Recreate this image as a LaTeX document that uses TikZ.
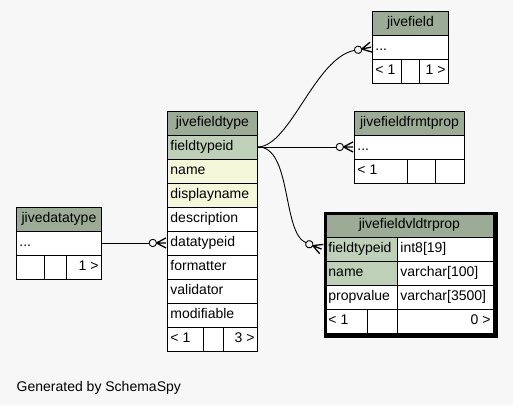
\documentclass[tikz,border=0pt]{standalone}
\usepackage{fontspec}
\setmainfont{Liberation Sans}
\usetikzlibrary{calc}
\definecolor{bg}{HTML}{F7F7F7}
\definecolor{hdrc}{HTML}{9BAB96}
\definecolor{pkc}{HTML}{BED1B8}
\definecolor{idxc}{HTML}{F4F7DA}
\tikzset{
  cellbox/.style={draw=black, line width=0.9bp, fill=white, inner sep=0pt,
    minimum height=24bp, text height=10bp, text depth=3bp,
    font=\fontsize{14bp}{16bp}\selectfont},
  hdr/.style={fill=hdrc},
  pk/.style={fill=pkc},
  idx/.style={fill=idxc},
  edge/.style={draw=black, line width=0.9bp},
  crow/.style={draw=black, line width=1.3bp, line join=miter},
}
\newcommand\tcell[7]{\node[cellbox,#2,minimum width=#5bp,anchor=north west] (#1) at (#3,#4) {\makebox[\dimexpr#5bp-6bp\relax][#6]{#7}};}
\newcommand\crowend[2]{\begin{scope}[shift={(#1)},rotate=#2]
  \draw[crow] (-1,-5) -- (-10.5,0) -- (-1,5) (-10.5,0) -- (-1,0);
  \draw[edge,fill=bg] (-14.2,0) circle[radius=3.7bp];
\end{scope}}
\begin{document}
\begin{tikzpicture}[x=1bp,y=-1bp]
\fill[bg] (0,0) rectangle (513,405);
\useasboundingbox (0,0) rectangle (513,405);

% jivefield
\tcell{jf-h}{hdr}{372}{10.5}{76}{c}{jivefield}
\tcell{jf-d}{}{372}{34.5}{76}{l}{...}
\tcell{jf-l1}{}{372}{58.5}{29}{l}{< 1}
\tcell{jf-l2}{}{401}{58.5}{18}{l}{}
\tcell{jf-l3}{}{419}{58.5}{29}{r}{1 >}

% jivefieldfrmtprop
\tcell{ff-h}{hdr}{354}{110.5}{110}{c}{jivefieldfrmtprop}
\tcell{ff-d}{}{354}{134.5}{110}{l}{...}
\tcell{ff-l1}{}{354}{158.5}{53}{l}{< 1}
\tcell{ff-l2}{}{407}{158.5}{28}{l}{}
\tcell{ff-l3}{}{435}{158.5}{29}{r}{}

% jivefieldtype
\tcell{ft-h}{hdr}{167}{110.5}{90}{c}{jivefieldtype}
\tcell{ft-id}{pk}{167}{134.5}{90}{l}{fieldtypeid}
\tcell{ft-nm}{idx}{167}{158.5}{90}{l}{name}
\tcell{ft-dn}{idx}{167}{182.5}{90}{l}{displayname}
\tcell{ft-ds}{}{167}{206.5}{90}{l}{description}
\tcell{ft-dt}{}{167}{230.5}{90}{l}{datatypeid}
\tcell{ft-fm}{}{167}{254.5}{90}{l}{formatter}
\tcell{ft-va}{}{167}{278.5}{90}{l}{validator}
\tcell{ft-mo}{}{167}{302.5}{90}{l}{modifiable}
\tcell{ft-l1}{}{167}{326.5}{36}{l}{< 1}
\tcell{ft-l2}{}{203}{326.5}{20}{l}{}
\tcell{ft-l3}{}{223}{326.5}{34}{r}{3 >}

% jivedatatype
\tcell{dt-h}{hdr}{16}{206.5}{85}{c}{jivedatatype}
\tcell{dt-d}{}{16}{230.5}{85}{l}{...}
\tcell{dt-l1}{}{16}{254.5}{28}{l}{}
\tcell{dt-l2}{}{44}{254.5}{22}{l}{}
\tcell{dt-l3}{}{66}{254.5}{35}{r}{1 >}

% jivefieldvldtrprop
\tcell{vl-h}{hdr,minimum height=24.5bp}{325}{212.5}{168}{c}{jivefieldvldtrprop}
\tcell{vl-n1}{pk}{325}{237}{72}{l}{fieldtypeid}
\tcell{vl-t1}{}{397}{237}{96}{l}{int8[19]}
\tcell{vl-n2}{pk}{325}{261}{72}{l}{name}
\tcell{vl-t2}{}{397}{261}{96}{l}{varchar[100]}
\tcell{vl-n3}{}{325}{285}{72}{l}{propvalue}
\tcell{vl-t3}{}{397}{285}{96}{l}{varchar[3500]}
\tcell{vl-l1}{}{325}{309}{42}{l}{< 1}
\tcell{vl-l2}{}{367}{309}{30}{l}{}
\tcell{vl-l3}{}{397}{309}{96}{r}{0 >}
\node[draw, line width=3.5bp, inner sep=0pt, minimum width=170.5bp, minimum height=122.5bp, anchor=north west] (vl) at (323.5,211.5) {};

% connectors
\coordinate (vl-in) at ($(vl-n1.west)+(-2.5,0)$);
\draw[edge, shorten >=17.9bp] (ft-id.east) .. controls (290,146.5) and (315,58) .. (jf-d.west);
\crowend{jf-d.west}{11.4}
\draw[edge, shorten >=17.9bp] (ft-id.east) -- (ff-d.west);
\crowend{ff-d.west}{0}
\draw[edge, shorten >=17.9bp] (ft-id.east) .. controls (292,146.5) and (282,233) .. (vl-in);
\crowend{vl-in}{-21.5}
\draw[edge, shorten >=17.9bp] (dt-d.east) -- (ft-dt.west);
\crowend{ft-dt.west}{0}

\node[anchor=base west, inner sep=0pt, font=\fontsize{14bp}{16bp}\selectfont] (gen) at (16.5,391) {Generated by SchemaSpy};
\end{tikzpicture}
\end{document}
